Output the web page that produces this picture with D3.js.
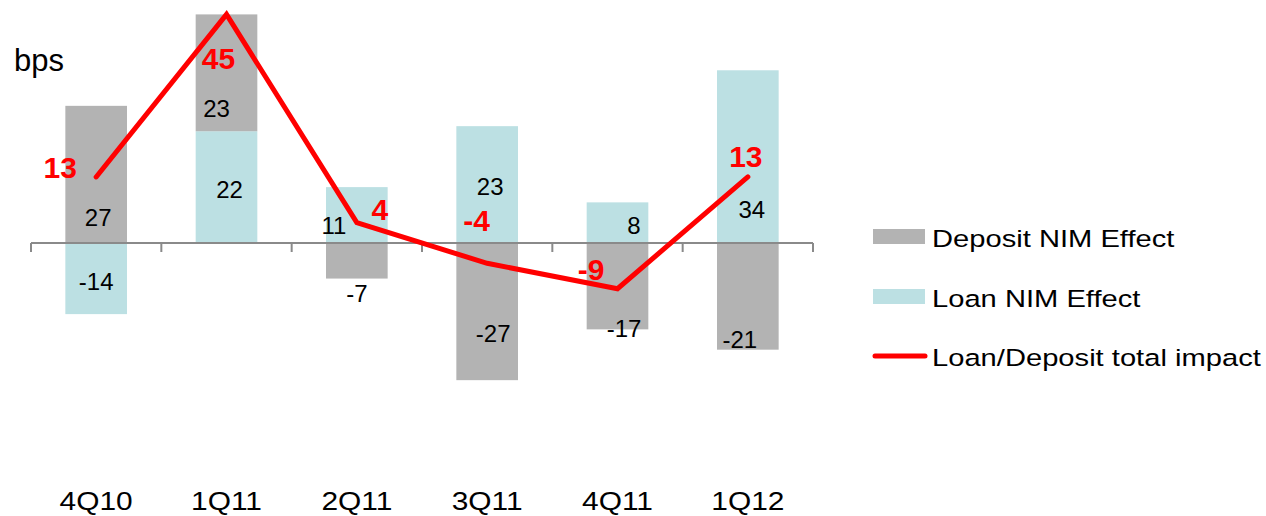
<!DOCTYPE html>
<html>
<head>
<meta charset="utf-8">
<script src="https://cdn.jsdelivr.net/npm/d3@7/dist/d3.min.js"></script>
<style>
  html, body { margin: 0; padding: 0; background: #fff; }
  svg { display: block; font-family: "Liberation Sans", Arial, sans-serif; }
</style>
</head>
<body>
<svg id="chart" width="1266" height="516"></svg>
<script>
// Quarterly NIM effects (bps)
const quarters = ["4Q10", "1Q11", "2Q11", "3Q11", "4Q11", "1Q12"];
const depositEffect = [27, 23, -7, -27, -17, -21];
const loanEffect = [-14, 22, 11, 23, 8, 34];
const totalImpact = [13, 45, 4, -4, -9, 13];
const seriesNames = ["Deposit NIM Effect", "Loan NIM Effect", "Loan/Deposit total impact"];
const unitLabel = "bps";

// Label nudges (pixels) relative to segment middle / line point
const depositLabelNudge = [[2, 52], [-10, 44], [0, 41], [6, 30], [6.5, 50.5], [-8, 52]];
const loanLabelNudge = [[0, 11.5], [3, 11], [-23, 19], [3, 10.5], [16.5, 11.5], [4, 61]];
const totalLabelNudge = [[-36, 1], [-8, 55], [23, -3], [-10.5, -32], [-26.5, -9], [-2, -10]];

const colors = { deposit: "#b3b3b3", loan: "#bce0e3", total: "#ff0000", axis: "#8a8a8a" };

const svg = d3.select("#chart");

const x = d3.scaleBand().domain(quarters).range([31, 813])
  .paddingInner(0.527).paddingOuter(0.2635);
const y = d3.scaleLinear().domain([-50, 50]).range([243 + 254, 243 - 254]);

const rows = quarters.map((q, i) => ({ q, loan: loanEffect[i], deposit: depositEffect[i] }));
const stacked = d3.stack().keys(["loan", "deposit"]).offset(d3.stackOffsetDiverging)(rows);

function addText(g, px, py, str, opts) {
  return g.append("text")
    .attr("transform", `translate(${px},${py}) scale(${opts.sx || 1},1)`)
    .attr("text-anchor", opts.anchor || "middle")
    .attr("font-size", opts.size)
    .attr("font-weight", opts.weight || "normal")
    .attr("fill", opts.fill || "#000")
    .text(str);
}

// Stacked bars
const barG = svg.append("g");
stacked.forEach(layer => {
  barG.selectAll(null).data(layer).enter().append("rect")
    .attr("x", d => x(d.data.q))
    .attr("width", x.bandwidth())
    .attr("y", d => y(Math.max(d[0], d[1])))
    .attr("height", d => Math.abs(y(d[0]) - y(d[1])))
    .attr("fill", colors[layer.key]);
});

// Category axis along zero
const axisG = svg.append("g");
const step = x.step();
const edges = d3.range(quarters.length + 1).map(i => x.range()[0] + i * step);
axisG.append("line")
  .attr("x1", edges[0]).attr("x2", edges[edges.length - 1])
  .attr("y1", y(0)).attr("y2", y(0))
  .attr("stroke", colors.axis).attr("stroke-width", 2);
axisG.selectAll(null).data(edges).enter().append("line")
  .attr("x1", d => d).attr("x2", d => d)
  .attr("y1", y(0)).attr("y2", y(0) + 9)
  .attr("stroke", colors.axis).attr("stroke-width", 2);

// Bar value labels
const labelG = svg.append("g");
stacked.forEach(layer => {
  const nudge = layer.key === "loan" ? loanLabelNudge : depositLabelNudge;
  layer.forEach((d, i) => {
    const cx = x(d.data.q) + x.bandwidth() / 2 + nudge[i][0];
    const cy = y((d[0] + d[1]) / 2) + nudge[i][1];
    addText(labelG, cx, cy, d.data[layer.key], { size: 24 });
  });
});

// Total impact line
const cxOf = q => x(q) + x.bandwidth() / 2;
const line = d3.line().x((d, i) => cxOf(quarters[i])).y(d => y(d));
svg.append("path")
  .datum(totalImpact)
  .attr("d", line)
  .attr("fill", "none")
  .attr("stroke", colors.total)
  .attr("stroke-width", 5)
  .attr("stroke-linejoin", "miter")
  .attr("stroke-linecap", "round");

totalImpact.forEach((v, i) => {
  addText(labelG, cxOf(quarters[i]) + totalLabelNudge[i][0], y(v) + totalLabelNudge[i][1], v,
    { size: 30, weight: "bold", fill: colors.total });
});

// Category labels
quarters.forEach(q => addText(svg, cxOf(q), 510, q, { size: 26, sx: 1.15 }));

// Unit label
addText(svg, 14, 71, unitLabel, { size: 31, anchor: "start" });

// Legend
const legendG = svg.append("g");
const legendRows = [247, 307, 366];
[colors.deposit, colors.loan].forEach((c, i) => {
  legendG.append("rect")
    .attr("x", 873).attr("y", legendRows[i] - 18)
    .attr("width", 52).attr("height", 15)
    .attr("fill", c);
});
legendG.append("line")
  .attr("x1", 875).attr("x2", 925)
  .attr("y1", legendRows[2] - 10).attr("y2", legendRows[2] - 10)
  .attr("stroke", colors.total).attr("stroke-width", 5)
  .attr("stroke-linecap", "round");
seriesNames.forEach((s, i) => addText(legendG, 932, legendRows[i], s, { size: 23.5, sx: 1.24, anchor: "start" }));
</script>
</body>
</html>
